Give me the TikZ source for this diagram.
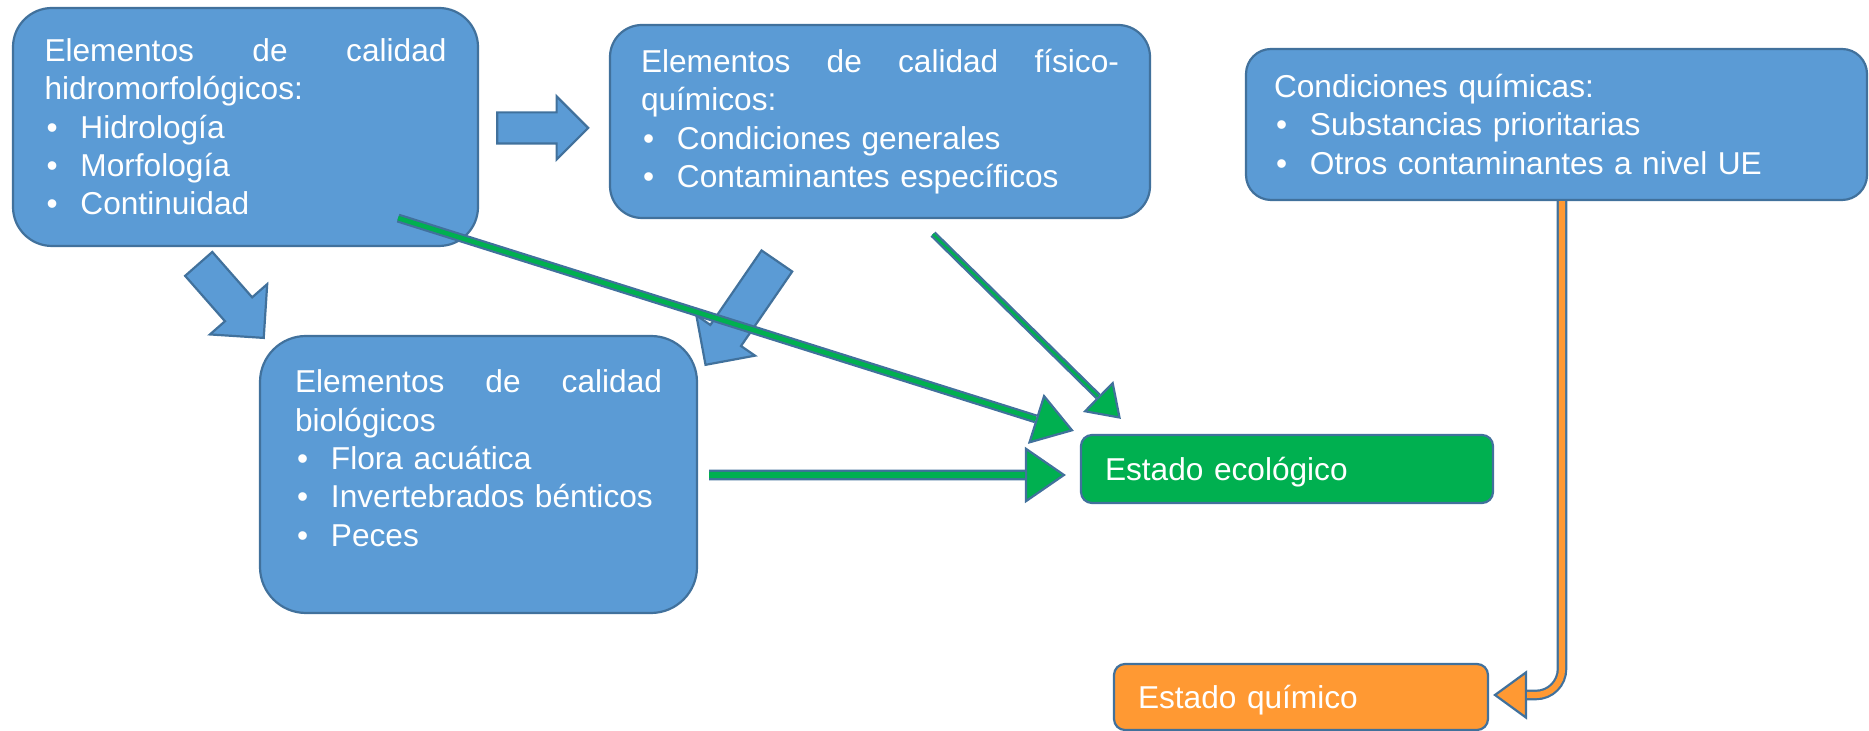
\documentclass[tikz,border=0pt]{standalone}
\usepackage{fontspec}
\setmainfont{Liberation Sans}
\usetikzlibrary{arrows.meta,shapes.arrows,positioning}

\definecolor{boxblue}{HTML}{5B9BD5}
\definecolor{edgeblue}{HTML}{41719C}
\definecolor{ecogreen}{HTML}{00B050}
\definecolor{quimorange}{HTML}{FF9933}

\newcommand{\bul}{\makebox[3.6mm][l]{\hspace{0.2mm}•}}
\newcommand{\fullline}[2]{\hbox to #1{#2}}

\tikzset{
  box/.style={rectangle, draw=edgeblue, line width=0.22mm, fill=boxblue, text=white,
    font=\fontsize{9pt}{10.9pt}\selectfont, align=left, inner sep=0pt},
  blockarrow/.style={single arrow, draw=edgeblue, line width=0.22mm, fill=boxblue,
    inner xsep=0pt, anchor=tail},
  gtip/.style 2 args={draw=edgeblue, line width=0.22mm,
    -{Triangle[length=#1, width=#2, fill=ecogreen]}},
  gshaft/.style 2 args={draw=edgeblue, line width=0.22mm, double=ecogreen,
    double distance=#1, shorten >=#2},
  otip/.style={draw=edgeblue, line width=0.22mm, rounded corners=2.6mm,
    -{Triangle[length=3.4mm, width=4.9mm, fill=quimorange]}},
  oshaft/.style={draw=edgeblue, line width=0.22mm, rounded corners=2.6mm,
    double=quimorange, double distance=0.62mm, shorten >=3.4mm}
}

\begin{document}
\begin{tikzpicture}[x=0.1mm, y=-0.1mm]
  \useasboundingbox (0,0) rectangle (1869,731);

  %%%%%%%%%%%%%%%% quality elements %%%%%%%%%%%%%%%%
  \node[box, minimum width=46.5mm, minimum height=23.8mm, text width=40.2mm,
    rounded corners=3.9mm] (hidro) at (245.5,127)
    {\fullline{40.2mm}{Elementos\hfill de\hfill calidad}\\ hidromorfológicos:\\
     \bul Hidrología\\ \bul Morfología\\ \bul Continuidad};
  \node[box, minimum width=54mm, minimum height=19.3mm, text width=47.8mm,
    rounded corners=3.2mm] (fisico) at (880,121.5)
    {\fullline{47.8mm}{Elementos\hfill de\hfill calidad\hfill físico-}\\ químicos:\\
     \bul Condiciones generales\\ \bul Contaminantes específicos};
  \node[box, minimum width=62.1mm, minimum height=15.1mm, text width=56.5mm,
    rounded corners=2.5mm] (quim) at (1556.5,124.5)
    {Condiciones químicas:\\ \bul Substancias prioritarias\\
     \bul Otros contaminantes a nivel UE};
  \node[box, minimum width=43.7mm, minimum height=27.7mm, text width=36.7mm,
    text height=2.3mm, text depth=18.6mm, rounded corners=4.6mm] (bio) at (478.5,474.5)
    {\fullline{36.7mm}{Elementos\hfill de\hfill calidad}\\ biológicos\\
     \bul Flora acuática\\ \bul Invertebrados bénticos\\ \bul Peces};

  %%%%%%%%%%%%%%%% status %%%%%%%%%%%%%%%%
  \node[box, fill=ecogreen, minimum width=41.2mm, minimum height=6.8mm, text width=36.4mm,
    text height=3mm, text depth=0.6mm, rounded corners=1.1mm] (eco) at (1287,469)
    {Estado ecológico};
  \node[box, fill=quimorange, minimum width=37.4mm, minimum height=6.6mm, text width=32.6mm,
    text height=3mm, text depth=0.6mm, rounded corners=1.1mm] (estq) at (1301,697)
    {Estado químico};

  %%%%%%%%%%%%%%%% block arrows %%%%%%%%%%%%%%%%
  \node[blockarrow, minimum height=9.1mm, minimum width=6.1mm, inner ysep=1.45mm,
    single arrow head extend=1.6mm] (arrA) at ([shift={(17,1)}]hidro.east) {};
  \node[blockarrow, rotate=-48.7, minimum height=9.85mm, minimum width=7.4mm,
    inner ysep=1.7mm, single arrow head extend=2mm] (arrB) at ([shift={(-47.5,16)}]hidro.south) {};
  \node[blockarrow, rotate=-124.5, minimum height=12.6mm, minimum width=6.9mm,
    inner ysep=1.75mm, single arrow head extend=1.7mm] (arrC) at ([shift={(-102.5,41)}]fisico.south) {};

  %%%%%%%%%%%%%%%% green arrows to Estado ecológico %%%%%%%%%%%%%%%%
  \coordinate (g1s) at ([shift={(-81,-29)}]hidro.south east);
  \coordinate (g1e) at ([shift={(-6,-3)}]eco.north west);
  \coordinate (g2s) at ([shift={(53,15)}]fisico.south);
  \coordinate (g2e) at ([shift={(41,-15)}]eco.north west);
  \coordinate (g3s) at ([shift={(11,0.5)}]bio.east);
  \coordinate (g3e) at ([shift={(-14,6)}]eco.west);

  \draw[gtip={4mm}{5.2mm}] (g1s) -- (g1e);
  \draw[gshaft={0.46mm}{4mm}] (g1s) -- (g1e);
  \draw[gtip={3.2mm}{4.3mm}] (g2s) -- (g2e);
  \draw[gshaft={0.26mm}{3.2mm}] (g2s) -- (g2e);
  \draw[gtip={4.1mm}{5.6mm}] (g3s) -- (g3e);
  \draw[gshaft={0.63mm}{4.1mm}] (g3s) -- (g3e);

  %%%%%%%%%%%%%%%% orange arrow to Estado químico %%%%%%%%%%%%%%%%
  \coordinate (os) at ([shift={(5.5,0)}]quim.south);
  \coordinate (oe) at ([shift={(4,-2)}]estq.east);
  \draw[otip] (os) |- (oe);
  \draw[oshaft] (os) |- (oe);

\end{tikzpicture}
\end{document}
